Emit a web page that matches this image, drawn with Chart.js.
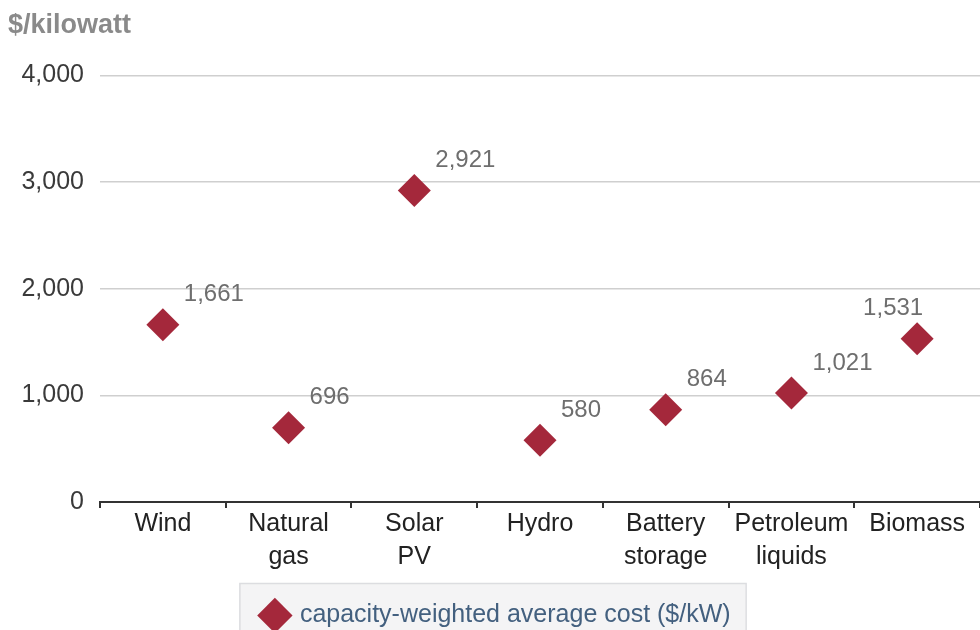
<!DOCTYPE html>
<html>
<head>
<meta charset="utf-8">
<title>Capacity-weighted average cost</title>
<script src="https://cdn.jsdelivr.net/npm/chart.js@4/dist/chart.umd.min.js"></script>
<style>
  html, body { margin: 0; padding: 0; background: #ffffff; }
  #wrap { width: 980px; height: 630px; }
</style>
</head>
<body>
<div id="wrap"><canvas id="chart" width="980" height="630"></canvas></div>
<script>
// Technology categories (multi-line labels) and capacity-weighted average cost, $/kW
const categories = [
  ['Wind'],
  ['Natural', 'gas'],
  ['Solar', 'PV'],
  ['Hydro'],
  ['Battery', 'storage'],
  ['Petroleum', 'liquids'],
  ['Biomass']
];
const costPerKW = [1661, 696, 2921, 580, 864, 1021, 1531];
const yTicks = [0, 1000, 2000, 3000, 4000];
const seriesLabel = 'capacity-weighted average cost ($/kW)';
const unitTitle = '$/kilowatt';

const FONT = "'Liberation Sans', Arial, Helvetica, sans-serif";
const MARK = '#a4283b';

// Value labels placed above-right of each diamond
const valueLabels = {
  id: 'valueLabels',
  afterDatasetsDraw(chart) {
    const ctx = chart.ctx;
    const meta = chart.getDatasetMeta(0);
    ctx.save();
    ctx.font = '24px ' + FONT;
    ctx.fillStyle = '#6e6e6e';
    ctx.textBaseline = 'middle';
    meta.data.forEach((pt, i) => {
      const txt = costPerKW[i].toLocaleString('en-US');
      const w = ctx.measureText(txt).width;
      let x = pt.x + 21;
      if (x + w > chart.width - 6) {
        ctx.textAlign = 'center';
        x = pt.x - 24;
      } else {
        ctx.textAlign = 'left';
      }
      ctx.fillText(txt, x, pt.y - 30);
    });
    ctx.restore();
  }
};

// Shaded panel behind the legend entry
const legendPanel = {
  id: 'legendPanel',
  beforeDraw(chart) {
    const lg = chart.legend;
    if (!lg || !lg.legendHitBoxes || !lg.legendHitBoxes.length) return;
    const hb = lg.legendHitBoxes[0];
    const ctx = chart.ctx;
    const x = hb.left - 23, y = hb.top - 20;
    const w = hb.width + 38, h = 120;
    ctx.save();
    ctx.fillStyle = '#f4f4f5';
    ctx.fillRect(x, y, w, h);
    ctx.strokeStyle = '#dcdde0';
    ctx.lineWidth = 1.5;
    ctx.strokeRect(x + 0.5, y + 0.5, w, h);
    ctx.restore();
  }
};

new Chart(document.getElementById('chart'), {
  type: 'line',
  data: {
    labels: categories,
    datasets: [{
      label: seriesLabel,
      data: costPerKW,
      showLine: false,
      pointStyle: 'rectRot',
      pointRadius: 16.5,
      pointHoverRadius: 16.5,
      pointBackgroundColor: MARK,
      pointBorderColor: MARK,
      pointBorderWidth: 0,
      backgroundColor: MARK,
      borderColor: MARK
    }]
  },
  options: {
    responsive: false,
    animation: false,
    devicePixelRatio: 1,
    layout: { autoPadding: false, padding: { left: 8, right: -5, top: 0, bottom: -8 } },
    plugins: {
      tooltip: { enabled: false },
      title: {
        display: true,
        text: unitTitle,
        align: 'start',
        color: '#8a8a8a',
        font: { family: FONT, size: 27, weight: 'bold' },
        padding: { top: 9, bottom: 34 }
      },
      legend: {
        display: true,
        position: 'bottom',
        labels: {
          usePointStyle: true,
          pointStyle: 'rectRot',
          color: '#43607f',
          font: { family: FONT, size: 25 },
          padding: 10
        }
      }
    },
    scales: {
      x: {
        type: 'category',
        offset: true,
        grid: {
          offset: true,
          drawOnChartArea: false,
          drawTicks: true,
          tickLength: 6,
          color: '#333333',
          lineWidth: 2
        },
        border: { display: true, color: '#333333', width: 2 },
        ticks: {
          color: '#222222',
          font: { family: FONT, size: 25, lineHeight: 1.32 },
          padding: 0,
          maxRotation: 0,
          autoSkip: false
        },
        afterFit(scale) {
          scale.height = 91;
          scale.paddingLeft = 0;
          scale.paddingRight = 0;
        }
      },
      y: {
        min: 0,
        max: 4000,
        afterBuildTicks(scale) { scale.ticks = yTicks.map(v => ({ value: v })); },
        grid: { color: '#cfcfcf', lineWidth: 1.5, drawTicks: false },
        border: { display: false },
        ticks: {
          color: '#3a3a3a',
          font: { family: FONT, size: 25 },
          padding: 16,
          callback: v => v.toLocaleString('en-US')
        },
        afterFit(scale) { scale.width = 92; }
      }
    }
  },
  plugins: [legendPanel, valueLabels]
});
</script>
</body>
</html>
